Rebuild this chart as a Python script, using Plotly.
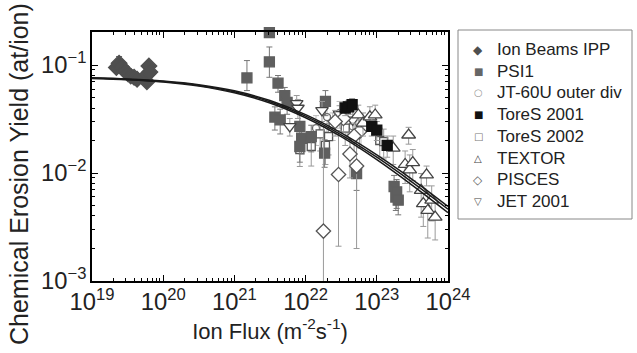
import plotly.graph_objects as go

# ---------------- data ----------------
fit_x = [1e19, 3.16e19, 1e20, 3.16e20, 1e21, 3.16e21, 1e22, 3.16e22, 1e23, 3.16e23, 1e24]
fit_mid = [0.0756, 0.0736, 0.0703, 0.0648, 0.0565, 0.0457, 0.0336, 0.0226, 0.0140, 0.0082, 0.00463]
fit_hi = [0.0762, 0.0743, 0.0711, 0.0658, 0.0577, 0.0469, 0.0347, 0.0235, 0.0147, 0.0087, 0.0049]
fit_lo = [0.0750, 0.0729, 0.0695, 0.0638, 0.0553, 0.0445, 0.0325, 0.0217, 0.0133, 0.0077, 0.0043]

ipp_x = [2.2e19, 2.4e19, 2.6e19, 2.9e19, 3.2e19, 3.5e19, 3.9e19, 4.3e19, 5.9e19, 6.1e19, 6.3e19, 6.5e19]
ipp_y = [0.095, 0.104, 0.096, 0.088, 0.083, 0.079, 0.077, 0.074, 0.070, 0.083, 0.098, 0.086]
ipp_e = [0.006, 0.016, 0.008, 0.006, 0.005, 0.005, 0.005, 0.005, 0.005, 0.005, 0.006, 0.005]

psi_x = [1.5e21, 3.1e21, 3.1e21, 4.1e21, 5.1e21, 3.7e21, 4.4e21, 5.5e21, 8.3e21, 8.8e21, 8.3e21,
         1.2e22, 1.85e22, 1.9e22, 5.2e22, 1.75e23, 1.85e23, 1.9e23, 2.0e23]
psi_y = [0.076, 0.107, 0.200, 0.068, 0.052, 0.033, 0.031, 0.045, 0.027, 0.021, 0.0176,
         0.0217, 0.0153, 0.046, 0.0099, 0.0075, 0.0060, 0.0067, 0.0056]
psi_up = [0.034, 0.040, 0.0, 0.012, 0.010, 0.008, 0.008, 0.010, 0.008, 0.006, 0.005,
          0.006, 0.005, 0.012, 0.003, 0.002, 0.0015, 0.002, 0.0015]
psi_dn = [0.018, 0.030, 0.0, 0.012, 0.010, 0.008, 0.008, 0.010, 0.008, 0.006, 0.005,
          0.006, 0.004, 0.012, 0.003, 0.002, 0.0015, 0.002, 0.0015]

jt_x = [1.4e22, 2.0e22, 2.4e22, 3.0e22, 3.8e22, 4.6e22, 6.0e22]
jt_y = [0.026, 0.033, 0.028, 0.036, 0.030, 0.027, 0.024]
jt_e = [0.008, 0.010, 0.008, 0.010, 0.009, 0.008, 0.007]

t01_x = [3.6e22, 4.0e22, 4.5e22, 8.5e22, 1.0e23, 1.4e23]
t01_y = [0.040, 0.041, 0.043, 0.027, 0.025, 0.018]
t01_e = [0.006, 0.006, 0.006, 0.005, 0.005, 0.004]

t02_x = [8.3e21, 1.2e22, 1.6e22, 1.9e22, 2.1e22, 3.6e22, 1.1e23, 1.25e23]
t02_y = [0.0165, 0.0176, 0.023, 0.018, 0.0217, 0.026, 0.020, 0.0195]
t02_e = [0.005, 0.006, 0.007, 0.006, 0.007, 0.008, 0.006, 0.006]

tex_x = [5.5e22, 6.4e22, 8.0e22, 9.5e22, 1.7e23, 2.5e23, 2.8e23, 2.9e23, 4.2e23, 4.5e23,
         5.0e23, 5.2e23, 5.9e23, 6.6e23, 3.2e23]
tex_y = [0.0345, 0.029, 0.0331, 0.0345, 0.017, 0.012, 0.0225, 0.0107, 0.0069, 0.0052,
         0.0096, 0.0045, 0.0056, 0.0039, 0.0125]
tex_e = [0.008, 0.007, 0.008, 0.008, 0.005, 0.004, 0.004, 0.004, 0.003, 0.002,
         0.002, 0.002, 0.002, 0.0015, 0.004]

pis_x = [1.78e22, 2.9e22, 5.2e22, 4.2e22, 3.4e22, 5.7e22, 2.6e22, 4.8e22]
pis_y = [0.0029, 0.0097, 0.0116, 0.015, 0.032, 0.0241, 0.030, 0.022]
pis_up = [0.024, 0.015, 0.013, 0.008, 0.008, 0.007, 0.008, 0.007]
pis_dn = [0.00289, 0.0076, 0.0096, 0.006, 0.008, 0.007, 0.008, 0.007]

jet_x = [6.0e21, 7.5e21, 7.8e21, 1.7e22, 4.6e22, 3.0e22]
jet_y = [0.027, 0.0442, 0.040, 0.038, 0.031, 0.035]
jet_e = [0.005, 0.008, 0.008, 0.008, 0.007, 0.007]

legend_names = ["Ion Beams IPP", "PSI1", "JT-60U outer div", "ToreS 2001",
                "ToreS 2002", "TEXTOR", "PISCES", "JET 2001"]
legend_glyphs = ["\u25C6", "\u25A0", "\u25CB", "\u25A0", "\u25A1", "\u25B3", "\u25C7", "\u25BD"]
legend_glyph_colors = ["#4f4f4f", "#666666", "#999999", "#111111",
                       "#777777", "#444444", "#666666", "#444444"]

# ---------------- figure ----------------
FONT = "Liberation Sans, Arial, sans-serif"
ERRC = "#9a9a9a"
TXT = "#222222"
fig = go.Figure()


def add_series(x, y, up, dn, symbol, size, fill, line, errcol):
    fig.add_trace(go.Scatter(
        x=x, y=y, mode="markers", showlegend=False, cliponaxis=False,
        marker=dict(symbol=symbol, size=size, color=fill,
                    line=dict(color=line, width=1.3)),
        error_y=dict(type="data", symmetric=False, array=up, arrayminus=dn,
                     color=errcol, thickness=1, width=3),
    ))


add_series(jt_x, jt_y, jt_e, jt_e, "circle", 7, "white", "#666666", "#bbbbbb")
add_series(t02_x, t02_y, t02_e, t02_e, "square", 8, "white", "#555555", ERRC)
add_series(psi_x, psi_y, psi_up, psi_dn, "square", 10, "#5f5f5f", "#5f5f5f", "#777777")
add_series(jet_x, jet_y, jet_e, jet_e, "triangle-down", 11, "white", "#444444", ERRC)
add_series(pis_x, pis_y, pis_up, pis_dn, "diamond", 11, "white", "#555555", ERRC)
add_series(tex_x, tex_y, tex_e, tex_e, "triangle-up", 12, "white", "#444444", ERRC)
add_series(t01_x, t01_y, t01_e, t01_e, "square", 10, "#111111", "#111111", ERRC)
add_series(ipp_x, ipp_y, ipp_e, ipp_e, "diamond", 12, "#4f4f4f", "#4f4f4f", "#666666")

for fy in (fit_hi, fit_mid, fit_lo):
    fig.add_trace(go.Scatter(x=fit_x, y=fy, mode="lines", showlegend=False,
                             line=dict(color="#1a1a1a", width=1.5, shape="spline")))

axis_common = dict(type="log", showgrid=False, zeroline=False, showline=True,
                   linecolor="black", linewidth=1.5, mirror="ticks",
                   ticks="inside", ticklen=6, tickwidth=1, tickcolor="black",
                   dtick=1, exponentformat="power", showexponent="all",
                   minor=dict(ticks="inside", ticklen=3, tickcolor="black", showgrid=False),
                   tickfont=dict(family=FONT, size=19, color=TXT), automargin=False)

fig.update_xaxes(range=[19, 24], **axis_common,
                 title=dict(text="Ion Flux (m<sup>-2</sup>s<sup>-1</sup>)",
                            font=dict(family=FONT, size=22, color=TXT), standoff=2))
fig.update_yaxes(range=[-3, -0.694], **axis_common)

# plot area in pixels: x 92..448, y 32..281
L, R, T, B = 92, 448, 32, 281
W, H = 637, 353


def px(xp):
    return (xp - L) / (R - L)


def py(yp):
    return (B - yp) / (B - T)


annotations = [dict(text="Chemical Erosion Yield (at/ion)", textangle=-90,
                    xref="paper", yref="paper", x=px(19), y=py(174),
                    xanchor="center", yanchor="middle", showarrow=False,
                    font=dict(family=FONT, size=25, color=TXT))]

# legend box drawn manually (row layout)
row0, gap = 49.5, 21.7
for i, (name, g, c) in enumerate(zip(legend_names, legend_glyphs, legend_glyph_colors)):
    yc = row0 + i * gap
    annotations.append(dict(text=g, xref="paper", yref="paper", x=px(478), y=py(yc),
                            xanchor="center", yanchor="middle", showarrow=False,
                            font=dict(family="DejaVu Sans", size=12 if g in "\u25C6\u25C7" else 10,
                                      color=c)))
    annotations.append(dict(text=name, xref="paper", yref="paper", x=px(495), y=py(yc),
                            xanchor="left", yanchor="middle", showarrow=False,
                            font=dict(family=FONT, size=17, color=TXT)))

shapes = [dict(type="rect", xref="paper", yref="paper",
               x0=px(458), x1=px(632), y0=py(219), y1=py(30),
               line=dict(color="#888888", width=1), fillcolor="rgba(0,0,0,0)")]

fig.update_layout(
    width=W, height=H,
    margin=dict(l=L, r=W - R, t=T, b=H - B, autoexpand=False),
    paper_bgcolor="white", plot_bgcolor="white",
    font=dict(family=FONT, color=TXT),
    showlegend=False,
    annotations=annotations, shapes=shapes,
)

fig.write_html("out.html", config={"displayModeBar": False},
               post_script="document.body.style.margin='0';document.body.style.overflow='hidden';")
